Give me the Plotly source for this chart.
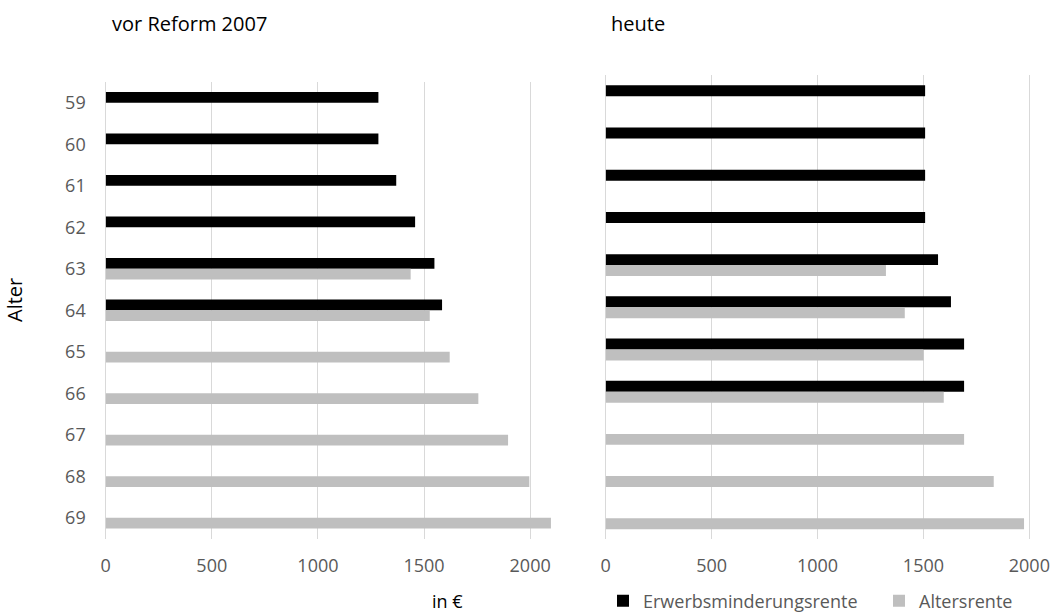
import plotly.graph_objects as go

ages = ["59", "60", "61", "62", "63", "64", "65", "66", "67", "68", "69"]

# vor Reform 2007
vor_erwerb = [1285, 1285, 1369, 1458, 1549, 1585, None, None, None, None, None]
vor_alters = [None, None, None, None, 1437, 1527, 1621, 1756, 1896, 1996, 2098]

# heute
heute_erwerb = [1508, 1508, 1508, 1508, 1569, 1630, 1692, 1692, None, None, None]
heute_alters = [None, None, None, None, 1323, 1412, 1501, 1596, 1692, 1832, 1975]

x_ticks = [0, 500, 1000, 1500, 2000]

BLACK = "#000000"
GRAY = "#bfbfbf"
GRID = "#d9d9d9"
TXT = "#595959"
FONT = "Open Sans"

W, H = 1052, 614

fig = go.Figure()
fig.add_trace(go.Bar(y=ages, x=vor_erwerb, orientation="h", name="Erwerbsminderungsrente",
                     marker=dict(color=BLACK, line=dict(width=0)), legendgroup="e",
                     xaxis="x", yaxis="y"))
fig.add_trace(go.Bar(y=ages, x=vor_alters, orientation="h", name="Altersrente",
                     marker=dict(color=GRAY, line=dict(width=0)), legendgroup="a",
                     xaxis="x", yaxis="y"))
fig.add_trace(go.Bar(y=ages, x=heute_erwerb, orientation="h", name="Erwerbsminderungsrente",
                     marker=dict(color=BLACK, line=dict(width=0)), legendgroup="e", showlegend=False,
                     xaxis="x2", yaxis="y2"))
fig.add_trace(go.Bar(y=ages, x=heute_alters, orientation="h", name="Altersrente",
                     marker=dict(color=GRAY, line=dict(width=0)), legendgroup="a", showlegend=False,
                     xaxis="x2", yaxis="y2"))

def px_x(p):
    return p / W

def px_y(p):
    return 1 - p / H

xaxis_common = dict(tickvals=x_ticks, showgrid=True, gridcolor=GRID, gridwidth=1,
                    zeroline=True, zerolinecolor=GRID, zerolinewidth=1, showline=False,
                    ticks="", tickfont=dict(family=FONT, size=18, color=TXT),
                    ticklabelstandoff=14, fixedrange=True)

fig.update_layout(
    width=W, height=H,
    margin=dict(l=0, r=0, t=0, b=0, autoexpand=False),
    paper_bgcolor="white", plot_bgcolor="white",
    barmode="group", bargap=0.48, bargroupgap=0,
    font=dict(family=FONT, size=18, color=TXT),
    xaxis=dict(domain=[px_x(105.7), px_x(555.6)], range=[0, 2120], anchor="y", **xaxis_common),
    xaxis2=dict(domain=[px_x(605.7), px_x(1037.8)], range=[0, 2040], anchor="y2", **xaxis_common),
    yaxis=dict(domain=[px_y(538.5), px_y(82)], autorange="reversed", type="category",
               showgrid=False, zeroline=False, showline=False, ticks="",
               tickfont=dict(family=FONT, size=18, color=TXT), ticklabelstandoff=19,
               anchor="x", fixedrange=True),
    yaxis2=dict(domain=[px_y(539.4), px_y(75.2)], autorange="reversed", type="category",
                showgrid=False, zeroline=False, showline=False, ticks="",
                showticklabels=False, anchor="x2", fixedrange=True),
    legend=dict(orientation="h", x=px_x(603), y=px_y(601), xanchor="left", yanchor="middle",
                font=dict(family=FONT, size=18, color=TXT), itemwidth=30,
                entrywidth=231, entrywidthmode="pixels", traceorder="normal",
                bgcolor="rgba(0,0,0,0)"),
    showlegend=True,
)

annotations = [
    dict(text="vor Reform 2007", x=px_x(110), y=px_y(23), xanchor="left", yanchor="middle",
         font=dict(family=FONT, size=20, color="#000000")),
    dict(text="heute", x=px_x(609), y=px_y(23), xanchor="left", yanchor="middle",
         font=dict(family=FONT, size=20, color="#000000")),
    dict(text="Alter", x=px_x(14), y=px_y(300), xanchor="center", yanchor="middle", textangle=-90,
         font=dict(family=FONT, size=20, color="#000000")),
    dict(text="in €", x=px_x(447), y=px_y(601), xanchor="center", yanchor="middle",
         font=dict(family=FONT, size=18, color="#000000")),
]
for a in annotations:
    a.update(xref="paper", yref="paper", showarrow=False)
fig.update_layout(annotations=annotations)

fig.write_html("out.html", config={"displayModeBar": False},
               post_script="document.body.style.margin='0';")
